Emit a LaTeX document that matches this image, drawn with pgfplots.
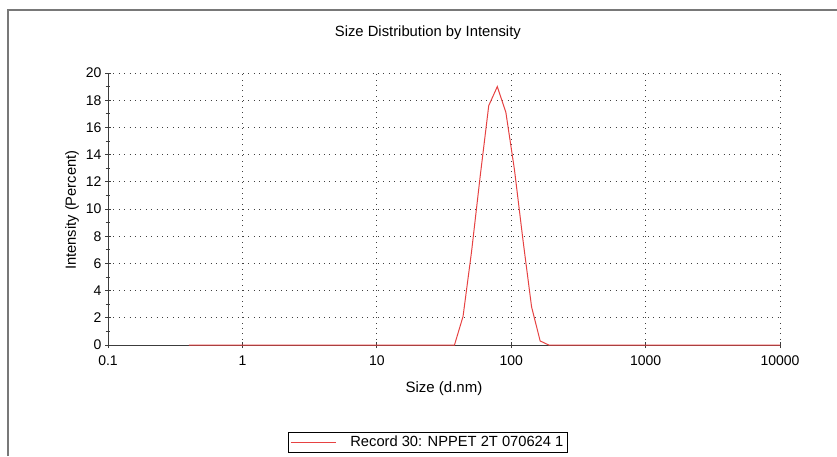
\documentclass[border=0pt]{standalone}
\usepackage{fontspec}
\setmainfont{Liberation Sans}
\usepackage{pgfplots}
\pgfplotsset{compat=1.18}

\definecolor{dtsred}{RGB}{226,32,32}
\definecolor{axgray}{RGB}{60,60,60}
\definecolor{frame}{RGB}{120,120,120}

\begin{document}
\begin{tikzpicture}[x=1pt,y=1pt]
\path[use as bounding box] (0,0) rectangle (837,456);
% outer frame (left and top edges only)
\draw[frame, line width=1.6pt] (8,0) -- (8,446) -- (837,446);

\begin{axis}[
    at={(108pt,111pt)}, anchor=south west,
    scale only axis,
    width=672pt, height=272pt,
    xmode=log, log basis x=10,
    xmin=0.1, xmax=10000,
    ymin=0, ymax=20,
    axis x line*=bottom, axis y line*=left,
    axis line style={axgray, line width=0.8pt, -},
    xtick={0.1,1,10,100,1000,10000},
    xticklabels={0.1,1,10,100,1000,10000},
    ytick={0,2,...,20},
    minor y tick num=1,
    tick align=center,
    major tick length=6pt, minor tick length=5pt,
    tick style={axgray, line width=0.7pt},
    grid=major,
    major grid style={black!75, line width=0.8pt, dash pattern=on 0.8pt off 4.6pt},
    /pgf/number format/assume math mode=true,
    ticklabel style={font=\fontsize{14}{16}\selectfont, text=black},
    xticklabel style={yshift=-4pt},
    yticklabel style={xshift=0pt},
    title={Size Distribution by Intensity},
    title style={at={(rel axis cs:0.476,1.154)}, anchor=center, yshift=-8pt, font=\fontsize{14.8}{17}\selectfont},
    xlabel={Size (d.nm)},
    xlabel style={at={(rel axis cs:0.500,-0.150)}, anchor=center, yshift=-3pt, font=\fontsize{15}{17}\selectfont},
    ylabel={Intensity (Percent)},
    ylabel style={at={(rel axis cs:-0.0536,0.496)}, anchor=center, font=\fontsize{14.7}{17}\selectfont},
    legend style={at={(rel axis cs:0.476,-0.357)}, anchor=center,
        draw=black, line width=0.6pt, font=\fontsize{14.7}{17}\selectfont,
        inner xsep=2pt, inner ysep=2pt},
    legend image code/.code={\draw[#1, line width=1pt] (0pt,0pt) -- (45pt,0pt);},
    clip=false,
]
\addplot[dtsred!85, line width=1pt] coordinates {
    (0.4,0) (1,0) (5,0) (10,0) (20,0) (32.67,0) (37.84,0)
    (43.82,2.1) (50.75,6.9) (58.77,12.4) (68.06,17.6)
    (78.82,19.0) (91.28,17.1) (105.7,12.9) (122.4,7.7)
    (141.8,2.8) (164.2,0.3) (190.1,0) (220.2,0) (500,0)
    (1000,0) (5000,0) (10000,0)
};
\addlegendentry{\hspace{12pt}Record 30: NPPET 2T 070624 1}
\end{axis}
\end{tikzpicture}
\end{document}
